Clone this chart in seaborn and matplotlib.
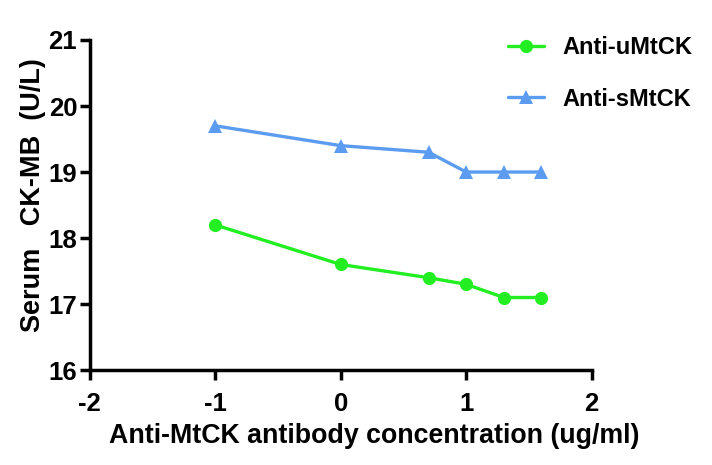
import matplotlib
matplotlib.use("Agg")
import matplotlib.pyplot as plt
import seaborn as sns
import pandas as pd

x_log_conc = [-1, 0, 0.7, 1, 1.3, 1.6]
anti_u = [18.2, 17.6, 17.4, 17.3, 17.1, 17.1]
anti_s = [19.7, 19.4, 19.3, 19.0, 19.0, 19.0]
series_names = ["Anti-uMtCK", "Anti-sMtCK"]
x_ticks = [-2, -1, 0, 1, 2]
y_ticks = [16, 17, 18, 19, 20, 21]

df = pd.DataFrame({
    "x": x_log_conc * 2,
    "y": anti_u + anti_s,
    "series": [series_names[0]] * len(x_log_conc) + [series_names[1]] * len(x_log_conc),
})

sns.set_style("ticks")
plt.rcParams["font.family"] = ["Liberation Sans", "DejaVu Sans"]
plt.rcParams["font.weight"] = "bold"
plt.rcParams["text.color"] = "black"
plt.rcParams["axes.labelcolor"] = "black"
plt.rcParams["xtick.color"] = "black"
plt.rcParams["ytick.color"] = "black"
plt.rcParams["axes.edgecolor"] = "black"

fig = plt.figure(figsize=(7.12, 4.65), dpi=100)
ax = fig.add_axes([0.126, 0.204, 0.705, 0.71])

palette = {series_names[0]: "#22ee22", series_names[1]: "#5b9cf0"}
markers = {series_names[0]: "o", series_names[1]: "^"}
sns.lineplot(data=df, x="x", y="y", hue="series", style="series",
             palette=palette, markers=markers, dashes=False,
             linewidth=2.4, markersize=9.5, markeredgewidth=0, ax=ax)

ax.set_xlim(-2, 2)
ax.set_ylim(16, 21)
ax.set_xticks(x_ticks)
ax.set_yticks(y_ticks)
ax.set_xticklabels([str(t) for t in x_ticks])
ax.set_yticklabels([str(t) for t in y_ticks])
ax.tick_params(axis="both", labelsize=18.5, width=2.5, length=7, direction="out",
               colors="black")
ax.tick_params(axis="x", pad=9)
ax.tick_params(axis="y", pad=2)
for lab in ax.get_xticklabels() + ax.get_yticklabels():
    lab.set_fontweight("bold")
for s in ["top", "right"]:
    ax.spines[s].set_visible(False)
for s in ["left", "bottom"]:
    ax.spines[s].set_linewidth(2.5)
    ax.spines[s].set_color("black")

ax.set_xlabel("Anti-MtCK antibody concentration (ug/ml)", fontsize=19.3, fontweight="bold", labelpad=1)
ax.xaxis.set_label_coords(0.566, -0.16)
ax.set_ylabel("Serum   CK-MB  (U/L)", fontsize=19.5, fontweight="bold", labelpad=4)
ax.yaxis.set_label_coords(-0.087, 0.53)

handles, labels = ax.get_legend_handles_labels()
ax.legend(handles, labels, loc="upper left", bbox_to_anchor=(0.815, 1.04), frameon=False,
          prop={"size": 17, "weight": "bold"}, handlelength=1.5, handletextpad=0.8,
          labelspacing=1.2, borderaxespad=0)

fig.savefig("out.png", dpi=100)
